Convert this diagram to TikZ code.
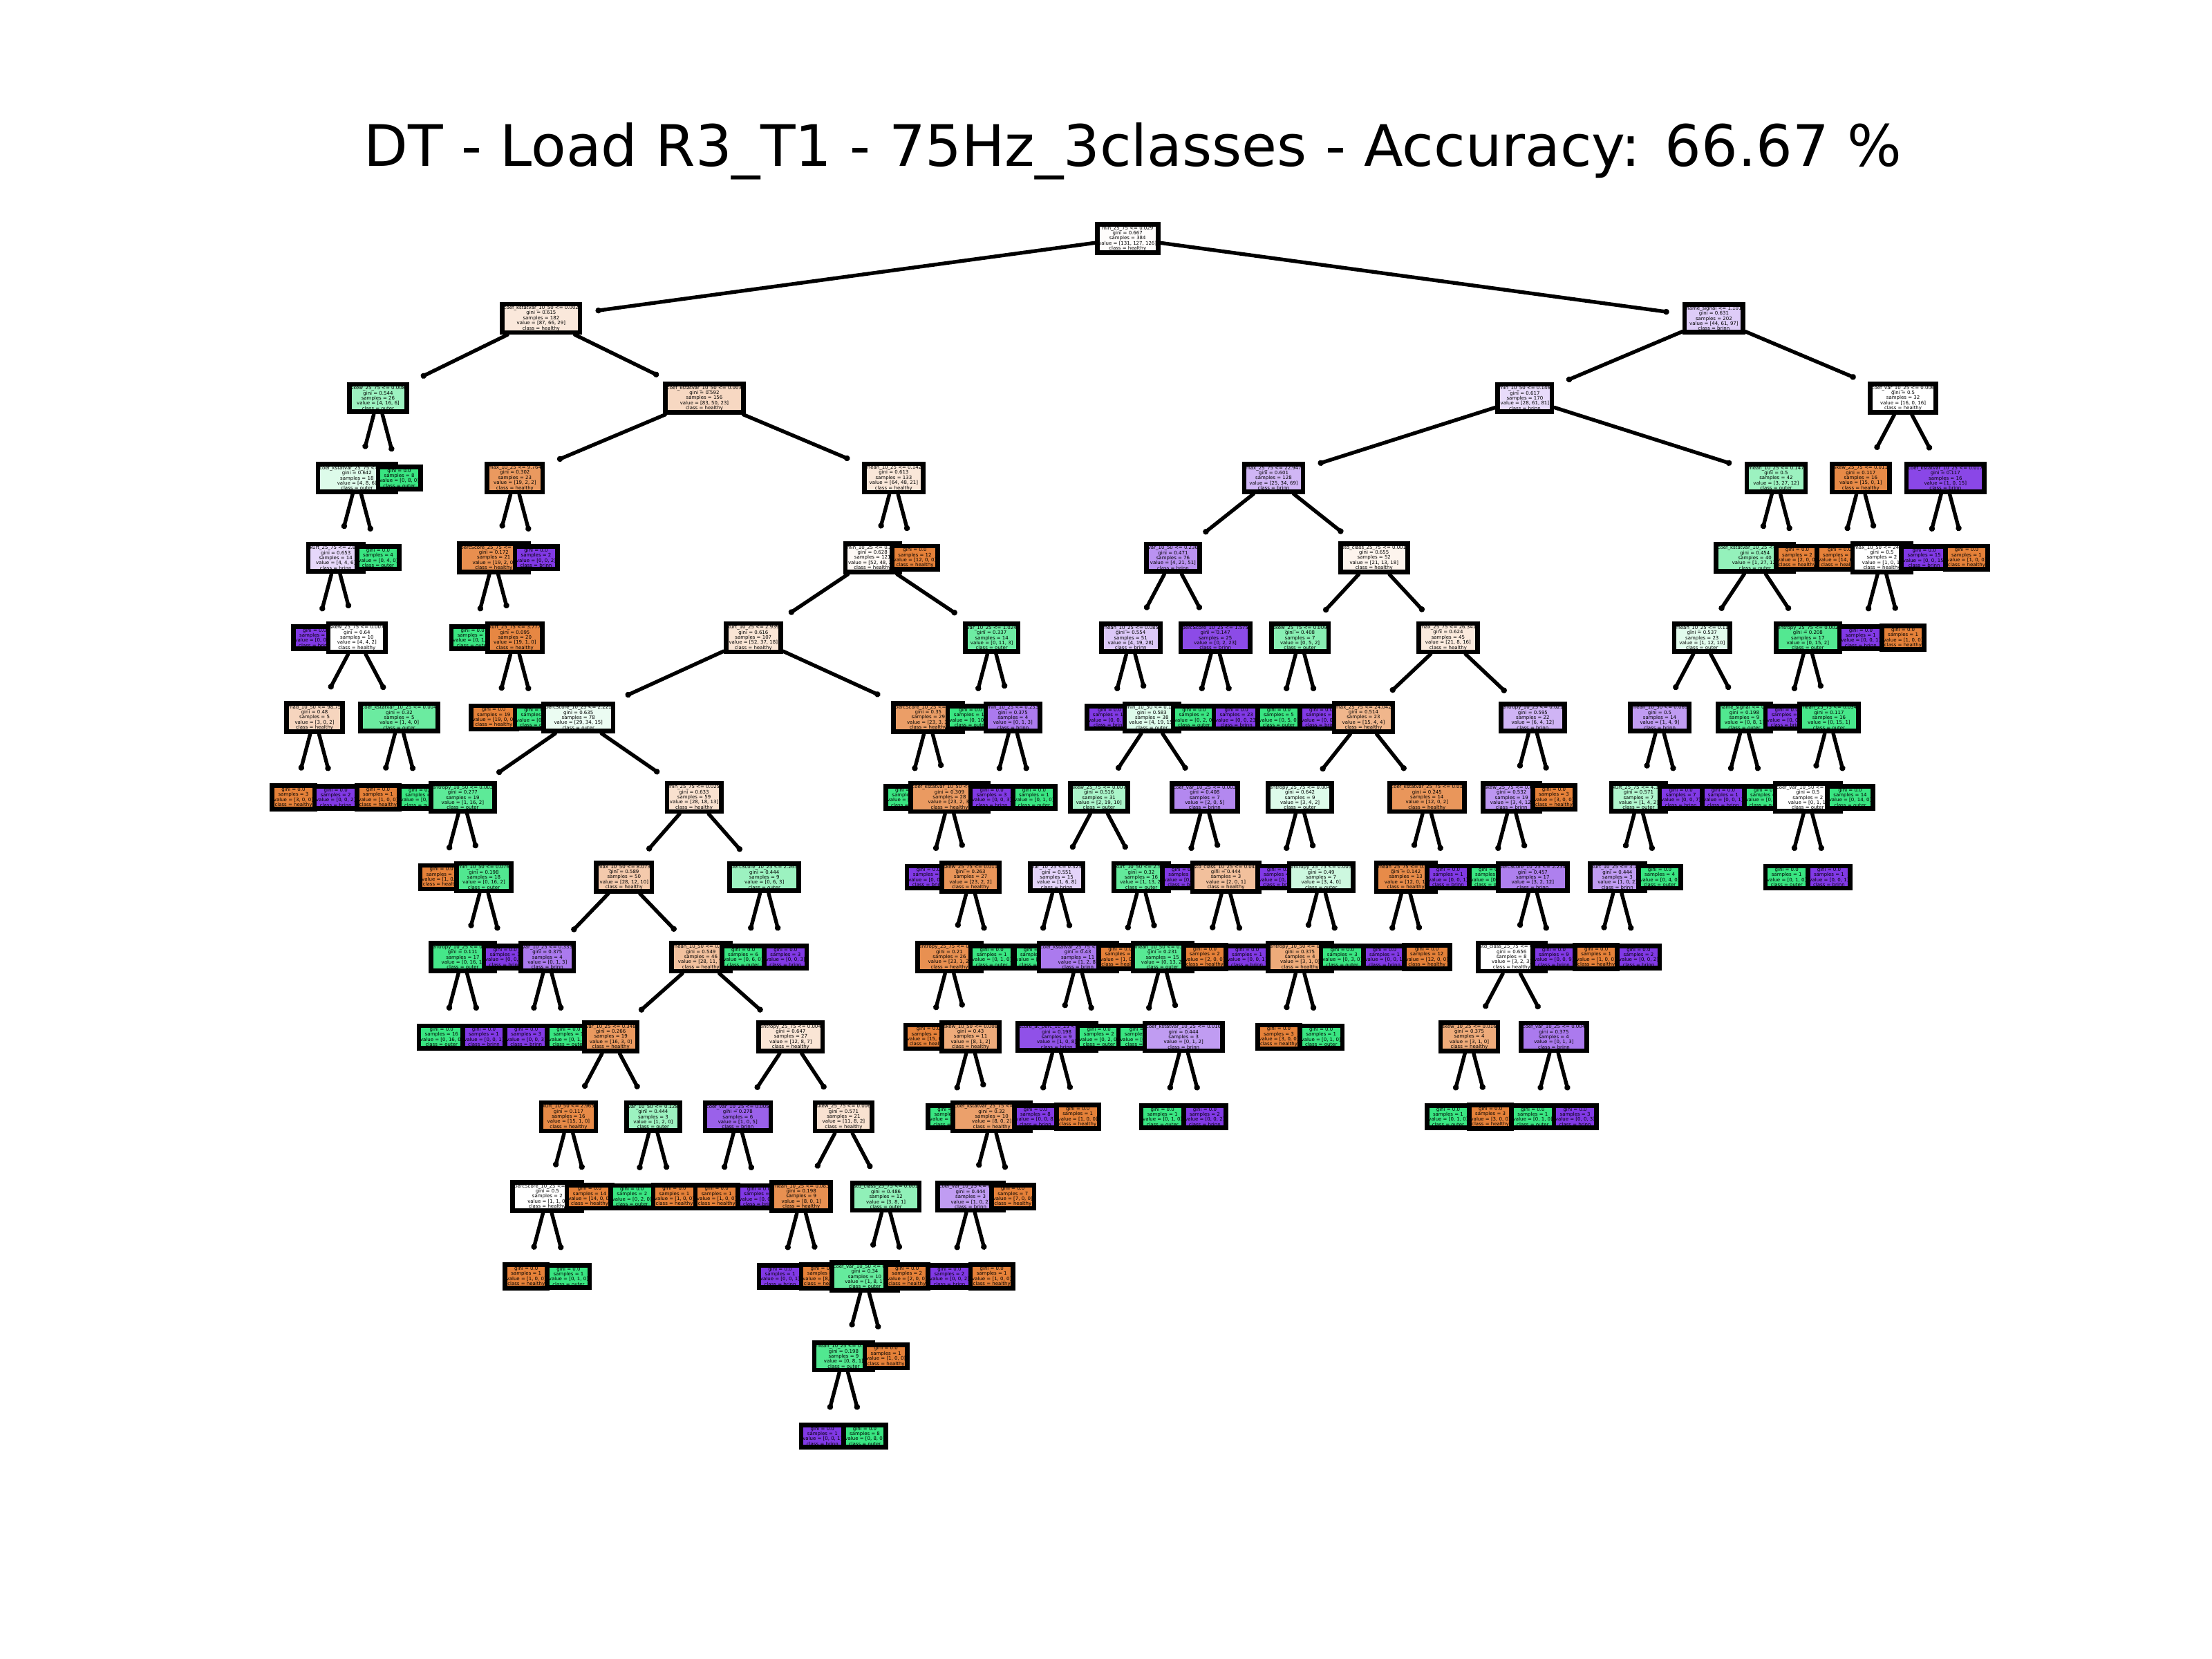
\documentclass[tikz,border=0pt]{standalone}
\usepackage{fontspec}
\setmainfont{DejaVu Sans}
\usepackage{xcolor}
\usetikzlibrary{arrows.meta}

\definecolor{clhealthy}{HTML}{E58139}
\definecolor{clouter}{HTML}{39E581}
\definecolor{clbrinn}{HTML}{8139E5}

\newcommand{\treefont}{\fontsize{1.95pt}{2.05pt}\selectfont\lineskiplimit=-5pt\relax}
\newcommand{\splittext}[6]{#1 <= #2\\gini = #3\\samples = #4\\value = [#5]\\class = #6}
\newcommand{\leaftext}[3]{gini = 0.0\\samples = #1\\value = [#2]\\class = #3}

\tikzset{
  treebox/.style={draw,line width=1.85pt,align=center,inner xsep=0.6pt,inner ysep=0.68pt,font=\treefont},
  branch/.style={line width=1.5pt,line cap=round,shorten >=0.19cm,-{Circle[length=2.3pt]}}
}

\begin{document}
\begin{tikzpicture}[x=0.02cm,y=-0.02cm]
\useasboundingbox (0,0) rectangle (1568,1176);

\node[font=\fontsize{23.1pt}{27pt}\selectfont] (Title) at (803,107) {DT - Load R3\_T1 - 75Hz\_3classes - Accuracy: 66.67 \%};

% 0
\node[treebox,fill=clhealthy!2] (N0) at (799.3,169) {\splittext{min\_25\_75}{0.029}{0.667}{384}{131, 127, 126}{healthy}};

% left half
\node[treebox,fill=clhealthy!18] (N1) at (383.6,225.6) {\splittext{coef\_kstatvar\_10\_50}{0.002}{0.615}{182}{87, 66, 29}{healthy}};
\node[treebox,fill=clouter!50] (N2) at (268,282.2) {\splittext{skew\_25\_75}{0.008}{0.544}{26}{4, 16, 6}{outer}};
\node[treebox,fill=clouter!17] (N3) at (253,338.8) {\splittext{coef\_kstatvar\_25\_75}{0.004}{0.642}{18}{4, 8, 6}{outer}};
\node[treebox,fill=clbrinn!20] (N4) at (238,395.4) {\splittext{kurt\_25\_75}{2.869}{0.653}{14}{4, 4, 6}{brinn}};
\node[treebox,fill=clbrinn] (N5) at (223,452) {\leaftext{4}{0, 0, 4}{brinn}};
\node[treebox,fill=white] (N6) at (253,452) {\splittext{skew\_25\_75}{0.007}{0.64}{10}{4, 4, 2}{healthy}};
\node[treebox,fill=clhealthy!33] (N7) at (223,508.6) {\splittext{mad\_10\_50}{98.75}{0.48}{5}{3, 0, 2}{healthy}};
\node[treebox,fill=clhealthy] (N8) at (208,565.2) {\leaftext{3}{3, 0, 0}{healthy}};
\node[treebox,fill=clbrinn] (N9) at (238,565.2) {\leaftext{2}{0, 0, 2}{brinn}};
\node[treebox,fill=clouter!75] (N10) at (283,508.6) {\splittext{coef\_kstatvar\_10\_25}{0.004}{0.32}{5}{1, 4, 0}{outer}};
\node[treebox,fill=clhealthy] (N11) at (268,565.2) {\leaftext{1}{1, 0, 0}{healthy}};
\node[treebox,fill=clouter] (N12) at (298,565.2) {\leaftext{4}{0, 4, 0}{outer}};
\node[treebox,fill=clouter] (N13) at (268,395.4) {\leaftext{4}{0, 4, 0}{outer}};
\node[treebox,fill=clouter] (N14) at (283,338.8) {\leaftext{8}{0, 8, 0}{outer}};
\node[treebox,fill=clhealthy!31] (N15) at (499.3,282.2) {\splittext{coef\_kstatvar\_10\_50}{0.003}{0.592}{156}{83, 50, 23}{healthy}};
\node[treebox,fill=clhealthy!81] (N16) at (365,338.8) {\splittext{max\_10\_25}{9.764}{0.302}{23}{19, 2, 2}{healthy}};
\node[treebox,fill=clhealthy!89] (N17) at (350,395.4) {\splittext{percScore\_25\_75}{2.486}{0.172}{21}{19, 2, 0}{healthy}};
\node[treebox,fill=clouter] (N18) at (335,452) {\leaftext{1}{0, 1, 0}{outer}};
\node[treebox,fill=clhealthy!95] (N19) at (365,452) {\splittext{kurt\_25\_75}{3.777}{0.095}{20}{19, 1, 0}{healthy}};
\node[treebox,fill=clhealthy] (N20) at (350,508.6) {\leaftext{19}{19, 0, 0}{healthy}};
\node[treebox,fill=clouter] (N21) at (380,508.6) {\leaftext{1}{0, 1, 0}{outer}};
\node[treebox,fill=clbrinn] (N22) at (380,395.4) {\leaftext{2}{0, 0, 2}{brinn}};
\node[treebox,fill=clhealthy!19] (N23) at (633.5,338.8) {\splittext{mean\_10\_25}{0.142}{0.613}{133}{64, 48, 21}{healthy}};
\node[treebox,fill=clhealthy!5] (N24) at (618.5,395.4) {\splittext{min\_10\_25}{0.318}{0.628}{121}{52, 48, 21}{healthy}};
\node[treebox,fill=clhealthy!21] (N25) at (534,452) {\splittext{kurt\_10\_25}{2.939}{0.616}{107}{52, 37, 18}{healthy}};
\node[treebox,fill=clouter!10] (N26) at (410,508.6) {\splittext{percScore\_10\_25}{2.221}{0.635}{78}{29, 34, 15}{outer}};
\node[treebox,fill=clouter!82] (N27) at (328,565.2) {\splittext{entropy\_10\_50}{0.003}{0.277}{19}{1, 16, 2}{outer}};
\node[treebox,fill=clhealthy] (N28) at (313,621.8) {\leaftext{1}{1, 0, 0}{healthy}};
\node[treebox,fill=clouter!88] (N29) at (343,621.8) {\splittext{min\_10\_50}{0.076}{0.198}{18}{0, 16, 2}{outer}};
\node[treebox,fill=clouter!94] (N30) at (328,678.4) {\splittext{entropy\_10\_25}{0.004}{0.111}{17}{0, 16, 1}{outer}};
\node[treebox,fill=clouter] (N31) at (313,735) {\leaftext{16}{0, 16, 0}{outer}};
\node[treebox,fill=clbrinn] (N32) at (343,735) {\leaftext{1}{0, 0, 1}{brinn}};
\node[treebox,fill=clbrinn] (N33) at (358,678.4) {\leaftext{1}{0, 0, 1}{brinn}};
\node[treebox,fill=clhealthy!24] (N34) at (492,565.2) {\splittext{min\_25\_75}{0.025}{0.633}{59}{28, 18, 13}{healthy}};
\node[treebox,fill=clhealthy!42] (N35) at (442.4,621.8) {\splittext{max\_10\_50}{8.073}{0.589}{50}{28, 12, 10}{healthy}};
\node[treebox,fill=clbrinn!67] (N36) at (388,678.4) {\splittext{var\_10\_25}{0.333}{0.375}{4}{0, 1, 3}{brinn}};
\node[treebox,fill=clbrinn] (N37) at (373,735) {\leaftext{3}{0, 0, 3}{brinn}};
\node[treebox,fill=clouter] (N38) at (403,735) {\leaftext{1}{0, 1, 0}{outer}};
\node[treebox,fill=clhealthy!49] (N39) at (496.8,678.4) {\splittext{mean\_10\_50}{0.079}{0.549}{46}{28, 11, 7}{healthy}};
\node[treebox,fill=clhealthy!81] (N40) at (433,735) {\splittext{var\_10\_25}{0.348}{0.266}{19}{16, 3, 0}{healthy}};
\node[treebox,fill=clhealthy!93] (N41) at (403,791.6) {\splittext{kurt\_10\_50}{2.965}{0.117}{16}{15, 1, 0}{healthy}};
\node[treebox,fill=white] (N42) at (388,848.2) {\splittext{percScore\_10\_25}{2.381}{0.5}{2}{1, 1, 0}{healthy}};
\node[treebox,fill=clhealthy] (N43) at (373,904.8) {\leaftext{1}{1, 0, 0}{healthy}};
\node[treebox,fill=clouter] (N44) at (403,904.8) {\leaftext{1}{0, 1, 0}{outer}};
\node[treebox,fill=clhealthy] (N45) at (418,848.2) {\leaftext{14}{14, 0, 0}{healthy}};
\node[treebox,fill=clouter!50] (N46) at (463,791.6) {\splittext{var\_10\_50}{0.128}{0.444}{3}{1, 2, 0}{outer}};
\node[treebox,fill=clouter] (N47) at (448,848.2) {\leaftext{2}{0, 2, 0}{outer}};
\node[treebox,fill=clhealthy] (N48) at (478,848.2) {\leaftext{1}{1, 0, 0}{healthy}};
\node[treebox,fill=clhealthy!21] (N49) at (560.5,735) {\splittext{entropy\_25\_75}{0.004}{0.647}{27}{12, 8, 7}{healthy}};
\node[treebox,fill=clbrinn!80] (N50) at (523,791.6) {\splittext{coef\_var\_10\_25}{0.005}{0.278}{6}{1, 0, 5}{brinn}};
\node[treebox,fill=clhealthy] (N51) at (508,848.2) {\leaftext{1}{1, 0, 0}{healthy}};
\node[treebox,fill=clbrinn] (N52) at (538,848.2) {\leaftext{5}{0, 0, 5}{brinn}};
\node[treebox,fill=clhealthy!23] (N53) at (598,791.6) {\splittext{skew\_25\_75}{0.006}{0.571}{21}{11, 8, 2}{healthy}};
\node[treebox,fill=clhealthy!88] (N54) at (568,848.2) {\splittext{mean\_10\_25}{0.083}{0.198}{9}{8, 0, 1}{healthy}};
\node[treebox,fill=clbrinn] (N55) at (553,904.8) {\leaftext{1}{0, 0, 1}{brinn}};
\node[treebox,fill=clhealthy] (N56) at (583,904.8) {\leaftext{8}{8, 0, 0}{healthy}};
\node[treebox,fill=clouter!56] (N57) at (628,848.2) {\splittext{std\_class\_25\_75}{0.001}{0.486}{12}{3, 8, 1}{outer}};
\node[treebox,fill=clouter!78] (N58) at (613,904.8) {\splittext{coef\_var\_10\_50}{0.004}{0.34}{10}{1, 8, 1}{outer}};
\node[treebox,fill=clouter!88] (N59) at (598,961.4) {\splittext{mean\_10\_25}{0.121}{0.198}{9}{0, 8, 1}{outer}};
\node[treebox,fill=clbrinn] (N60) at (583,1018) {\leaftext{1}{0, 0, 1}{brinn}};
\node[treebox,fill=clouter] (N61) at (613,1018) {\leaftext{8}{0, 8, 0}{outer}};
\node[treebox,fill=clhealthy] (N62) at (628,961.4) {\leaftext{1}{1, 0, 0}{healthy}};
\node[treebox,fill=clhealthy] (N63) at (643,904.8) {\leaftext{2}{2, 0, 0}{healthy}};
\node[treebox,fill=clouter!50] (N64) at (541.8,621.8) {\splittext{percScore\_10\_25}{2.265}{0.444}{9}{0, 6, 3}{outer}};
\node[treebox,fill=clouter] (N65) at (526.8,678.4) {\leaftext{6}{0, 6, 0}{outer}};
\node[treebox,fill=clbrinn] (N66) at (556.8,678.4) {\leaftext{3}{0, 0, 3}{brinn}};
\node[treebox,fill=clhealthy!77] (N67) at (658,508.6) {\splittext{percScore\_10\_25}{2.513}{0.35}{29}{23, 3, 3}{healthy}};
\node[treebox,fill=clouter] (N68) at (643,565.2) {\leaftext{1}{0, 1, 0}{outer}};
\node[treebox,fill=clhealthy!80] (N69) at (673,565.2) {\splittext{coef\_kstatvar\_10\_50}{0.005}{0.309}{28}{23, 2, 3}{healthy}};
\node[treebox,fill=clbrinn] (N70) at (658,621.8) {\leaftext{1}{0, 0, 1}{brinn}};
\node[treebox,fill=clhealthy!84] (N71) at (688,621.8) {\splittext{skew\_25\_75}{0.011}{0.263}{27}{23, 2, 2}{healthy}};
\node[treebox,fill=clhealthy!88] (N72) at (673,678.4) {\splittext{entropy\_25\_75}{0.005}{0.21}{26}{23, 1, 2}{healthy}};
\node[treebox,fill=clhealthy] (N73) at (658,735) {\leaftext{15}{15, 0, 0}{healthy}};
\node[treebox,fill=clhealthy!67] (N74) at (688,735) {\splittext{skew\_10\_50}{0.008}{0.43}{11}{8, 1, 2}{healthy}};
\node[treebox,fill=clouter] (N75) at (673,791.6) {\leaftext{1}{0, 1, 0}{outer}};
\node[treebox,fill=clhealthy!75] (N76) at (703,791.6) {\splittext{coef\_kstatvar\_25\_75}{0.011}{0.32}{10}{8, 0, 2}{healthy}};
\node[treebox,fill=clbrinn!50] (N77) at (688,848.2) {\splittext{coef\_var\_10\_25}{0.004}{0.444}{3}{1, 0, 2}{brinn}};
\node[treebox,fill=clbrinn] (N78) at (673,904.8) {\leaftext{2}{0, 0, 2}{brinn}};
\node[treebox,fill=clhealthy] (N79) at (703,904.8) {\leaftext{1}{1, 0, 0}{healthy}};
\node[treebox,fill=clhealthy] (N80) at (718,848.2) {\leaftext{7}{7, 0, 0}{healthy}};
\node[treebox,fill=clouter] (N81) at (703,678.4) {\leaftext{1}{0, 1, 0}{outer}};
\node[treebox,fill=clouter!73] (N82) at (703,452) {\splittext{var\_10\_25}{1.024}{0.337}{14}{0, 11, 3}{outer}};
\node[treebox,fill=clouter] (N83) at (688,508.6) {\leaftext{10}{0, 10, 0}{outer}};
\node[treebox,fill=clbrinn!67] (N84) at (718,508.6) {\splittext{min\_10\_25}{0.253}{0.375}{4}{0, 1, 3}{brinn}};
\node[treebox,fill=clbrinn] (N85) at (703,565.2) {\leaftext{3}{0, 0, 3}{brinn}};
\node[treebox,fill=clouter] (N86) at (733,565.2) {\leaftext{1}{0, 1, 0}{outer}};
\node[treebox,fill=clhealthy] (N87) at (648.5,395.4) {\leaftext{12}{12, 0, 0}{healthy}};

% right half
\node[treebox,fill=clbrinn!26] (N88) at (1214.9,225.6) {\splittext{name\_signal}{1.101}{0.631}{202}{44, 61, 97}{brinn}};
\node[treebox,fill=clbrinn!18] (N89) at (1080.9,282.2) {\splittext{min\_10\_50}{0.146}{0.617}{170}{28, 61, 81}{brinn}};
\node[treebox,fill=clbrinn!37] (N90) at (902.8,338.8) {\splittext{max\_25\_75}{22.947}{0.601}{128}{25, 34, 69}{brinn}};
\node[treebox,fill=clbrinn!55] (N91) at (831.5,395.4) {\splittext{var\_10\_50}{0.236}{0.471}{76}{4, 21, 51}{brinn}};
\node[treebox,fill=clbrinn!28] (N92) at (801.5,452) {\splittext{mean\_10\_25}{0.085}{0.554}{51}{4, 19, 28}{brinn}};
\node[treebox,fill=clbrinn] (N93) at (786.5,508.6) {\leaftext{13}{0, 0, 13}{brinn}};
\node[treebox,fill=clouter!17] (N94) at (816.5,508.6) {\splittext{min\_10\_50}{0.127}{0.583}{38}{4, 19, 15}{outer}};
\node[treebox,fill=clouter!43] (N95) at (779,565.2) {\splittext{skew\_25\_75}{0.007}{0.516}{31}{2, 19, 10}{outer}};
\node[treebox,fill=clbrinn!22] (N96) at (749,621.8) {\splittext{var\_10\_25}{0.325}{0.551}{15}{1, 6, 8}{brinn}};
\node[treebox,fill=clouter] (N97) at (734,678.4) {\leaftext{4}{0, 4, 0}{outer}};
\node[treebox,fill=clbrinn!67] (N98) at (764,678.4) {\splittext{coef\_kstatvar\_25\_75}{0.009}{0.43}{11}{1, 2, 8}{brinn}};
\node[treebox,fill=clbrinn!88] (N99) at (749,735) {\splittext{score\_at\_perc\_10\_25}{0.318}{0.198}{9}{1, 0, 8}{brinn}};
\node[treebox,fill=clbrinn] (N100) at (734,791.6) {\leaftext{8}{0, 0, 8}{brinn}};
\node[treebox,fill=clhealthy] (N101) at (764,791.6) {\leaftext{1}{1, 0, 0}{healthy}};
\node[treebox,fill=clouter] (N102) at (779,735) {\leaftext{2}{0, 2, 0}{outer}};
\node[treebox,fill=clouter!79] (N103) at (809,621.8) {\splittext{kurt\_10\_50}{2.517}{0.32}{16}{1, 13, 2}{outer}};
\node[treebox,fill=clhealthy] (N104) at (794,678.4) {\leaftext{1}{1, 0, 0}{healthy}};
\node[treebox,fill=clouter!85] (N105) at (824,678.4) {\splittext{mean\_10\_50}{0.084}{0.231}{15}{0, 13, 2}{outer}};
\node[treebox,fill=clouter] (N106) at (809,735) {\leaftext{12}{0, 12, 0}{outer}};
\node[treebox,fill=clbrinn!50] (N107) at (839,735) {\splittext{coef\_kstatvar\_10\_25}{0.016}{0.444}{3}{0, 1, 2}{brinn}};
\node[treebox,fill=clouter] (N108) at (824,791.6) {\leaftext{1}{0, 1, 0}{outer}};
\node[treebox,fill=clbrinn] (N109) at (854,791.6) {\leaftext{2}{0, 0, 2}{brinn}};
\node[treebox,fill=clbrinn!60] (N110) at (854,565.2) {\splittext{coef\_var\_10\_25}{0.003}{0.408}{7}{2, 0, 5}{brinn}};
\node[treebox,fill=clbrinn] (N111) at (839,621.8) {\leaftext{4}{0, 0, 4}{brinn}};
\node[treebox,fill=clhealthy!50] (N112) at (869,621.8) {\splittext{std\_class\_10\_25}{0.043}{0.444}{3}{2, 0, 1}{healthy}};
\node[treebox,fill=clhealthy] (N113) at (854,678.4) {\leaftext{2}{2, 0, 0}{healthy}};
\node[treebox,fill=clbrinn] (N114) at (884,678.4) {\leaftext{1}{0, 0, 1}{brinn}};
\node[treebox,fill=clbrinn!91] (N115) at (861.5,452) {\splittext{percScore\_10\_25}{1.575}{0.147}{25}{0, 2, 23}{brinn}};
\node[treebox,fill=clouter] (N116) at (846.5,508.6) {\leaftext{2}{0, 2, 0}{outer}};
\node[treebox,fill=clbrinn] (N117) at (876.5,508.6) {\leaftext{23}{0, 0, 23}{brinn}};
\node[treebox,fill=clhealthy!9] (N118) at (974,395.4) {\splittext{std\_class\_25\_75}{0.001}{0.655}{52}{21, 13, 18}{healthy}};
\node[treebox,fill=clouter!60] (N119) at (921.5,452) {\splittext{skew\_25\_75}{0.009}{0.408}{7}{0, 5, 2}{outer}};
\node[treebox,fill=clouter] (N120) at (906.5,508.6) {\leaftext{5}{0, 5, 0}{outer}};
\node[treebox,fill=clbrinn] (N121) at (936.5,508.6) {\leaftext{2}{0, 0, 2}{brinn}};
\node[treebox,fill=clhealthy!17] (N122) at (1026.5,452) {\splittext{max\_25\_75}{26.341}{0.624}{45}{21, 8, 16}{healthy}};
\node[treebox,fill=clhealthy!58] (N123) at (966.5,508.6) {\splittext{max\_25\_75}{24.042}{0.514}{23}{15, 4, 4}{healthy}};
\node[treebox,fill=clouter!17] (N124) at (921.5,565.2) {\splittext{entropy\_25\_75}{0.004}{0.642}{9}{3, 4, 2}{outer}};
\node[treebox,fill=clbrinn] (N125) at (906.5,621.8) {\leaftext{2}{0, 0, 2}{brinn}};
\node[treebox,fill=clouter!25] (N126) at (936.5,621.8) {\splittext{entropy\_25\_75}{0.005}{0.49}{7}{3, 4, 0}{outer}};
\node[treebox,fill=clhealthy!67] (N127) at (921.5,678.4) {\splittext{entropy\_10\_50}{0.004}{0.375}{4}{3, 1, 0}{healthy}};
\node[treebox,fill=clhealthy] (N128) at (906.5,735) {\leaftext{3}{3, 0, 0}{healthy}};
\node[treebox,fill=clouter] (N129) at (936.5,735) {\leaftext{1}{0, 1, 0}{outer}};
\node[treebox,fill=clouter] (N130) at (951.5,678.4) {\leaftext{3}{0, 3, 0}{outer}};
\node[treebox,fill=clhealthy!83] (N131) at (1011.5,565.2) {\splittext{coef\_kstatvar\_25\_75}{0.01}{0.245}{14}{12, 0, 2}{healthy}};
\node[treebox,fill=clhealthy!92] (N132) at (996.5,621.8) {\splittext{mean\_25\_75}{0.031}{0.142}{13}{12, 0, 1}{healthy}};
\node[treebox,fill=clbrinn] (N133) at (981.5,678.4) {\leaftext{1}{0, 0, 1}{brinn}};
\node[treebox,fill=clhealthy] (N134) at (1011.5,678.4) {\leaftext{12}{12, 0, 0}{healthy}};
\node[treebox,fill=clbrinn] (N135) at (1026.5,621.8) {\leaftext{1}{0, 0, 1}{brinn}};
\node[treebox,fill=clbrinn!38] (N136) at (1086.5,508.6) {\splittext{entropy\_10\_25}{0.021}{0.595}{22}{6, 4, 12}{brinn}};
\node[treebox,fill=clbrinn!53] (N137) at (1071.5,565.2) {\splittext{skew\_25\_75}{0.012}{0.532}{19}{3, 4, 12}{brinn}};
\node[treebox,fill=clouter] (N138) at (1056.5,621.8) {\leaftext{2}{0, 2, 0}{outer}};
\node[treebox,fill=clbrinn!64] (N139) at (1086.5,621.8) {\splittext{percScore\_10\_25}{2.234}{0.457}{17}{3, 2, 12}{brinn}};
\node[treebox,fill=white] (N140) at (1071.5,678.4) {\splittext{std\_class\_25\_75}{0.001}{0.656}{8}{3, 2, 3}{healthy}};
\node[treebox,fill=clhealthy!67] (N141) at (1041.5,735) {\splittext{skew\_10\_25}{0.016}{0.375}{4}{3, 1, 0}{healthy}};
\node[treebox,fill=clouter] (N142) at (1026.5,791.6) {\leaftext{1}{0, 1, 0}{outer}};
\node[treebox,fill=clhealthy] (N143) at (1056.5,791.6) {\leaftext{3}{3, 0, 0}{healthy}};
\node[treebox,fill=clbrinn!67] (N144) at (1101.5,735) {\splittext{coef\_var\_10\_25}{0.004}{0.375}{4}{0, 1, 3}{brinn}};
\node[treebox,fill=clouter] (N145) at (1086.5,791.6) {\leaftext{1}{0, 1, 0}{outer}};
\node[treebox,fill=clbrinn] (N146) at (1116.5,791.6) {\leaftext{3}{0, 0, 3}{brinn}};
\node[treebox,fill=clbrinn] (N147) at (1101.5,678.4) {\leaftext{9}{0, 0, 9}{brinn}};
\node[treebox,fill=clhealthy] (N148) at (1101.5,565.2) {\leaftext{3}{3, 0, 0}{healthy}};
\node[treebox,fill=clouter!50] (N149) at (1259,338.8) {\splittext{mean\_10\_25}{0.147}{0.5}{42}{3, 27, 12}{outer}};
\node[treebox,fill=clouter!54] (N150) at (1244,395.4) {\splittext{coef\_kstatvar\_10\_25}{0.013}{0.454}{40}{1, 27, 12}{outer}};
\node[treebox,fill=clouter!15] (N151) at (1206.5,452) {\splittext{mean\_10\_25}{0.11}{0.537}{23}{1, 12, 10}{outer}};
\node[treebox,fill=clbrinn!50] (N152) at (1176.5,508.6) {\splittext{mean\_10\_50}{0.069}{0.5}{14}{1, 4, 9}{brinn}};
\node[treebox,fill=clouter!40] (N153) at (1161.5,565.2) {\splittext{kurt\_25\_75}{4.312}{0.571}{7}{1, 4, 2}{outer}};
\node[treebox,fill=clbrinn!50] (N154) at (1146.5,621.8) {\splittext{kurt\_10\_25}{3.126}{0.444}{3}{1, 0, 2}{brinn}};
\node[treebox,fill=clhealthy] (N155) at (1131.5,678.4) {\leaftext{1}{1, 0, 0}{healthy}};
\node[treebox,fill=clbrinn] (N156) at (1161.5,678.4) {\leaftext{2}{0, 0, 2}{brinn}};
\node[treebox,fill=clouter] (N157) at (1176.5,621.8) {\leaftext{4}{0, 4, 0}{outer}};
\node[treebox,fill=clbrinn] (N158) at (1191.5,565.2) {\leaftext{7}{0, 0, 7}{brinn}};
\node[treebox,fill=clouter!88] (N159) at (1236.5,508.6) {\splittext{name\_signal}{0.5}{0.198}{9}{0, 8, 1}{outer}};
\node[treebox,fill=clbrinn] (N160) at (1221.5,565.2) {\leaftext{1}{0, 0, 1}{brinn}};
\node[treebox,fill=clouter] (N161) at (1251.5,565.2) {\leaftext{8}{0, 8, 0}{outer}};
\node[treebox,fill=clouter!87] (N162) at (1281.5,452) {\splittext{entropy\_25\_75}{0.002}{0.208}{17}{0, 15, 2}{outer}};
\node[treebox,fill=clbrinn] (N163) at (1266.5,508.6) {\leaftext{1}{0, 0, 1}{brinn}};
\node[treebox,fill=clouter!93] (N164) at (1296.5,508.6) {\splittext{mean\_25\_75}{0.034}{0.117}{16}{0, 15, 1}{outer}};
\node[treebox,fill=white] (N165) at (1281.5,565.2) {\splittext{coef\_var\_10\_50}{0.006}{0.5}{2}{0, 1, 1}{outer}};
\node[treebox,fill=clouter] (N166) at (1266.5,621.8) {\leaftext{1}{0, 1, 0}{outer}};
\node[treebox,fill=clbrinn] (N167) at (1296.5,621.8) {\leaftext{1}{0, 0, 1}{brinn}};
\node[treebox,fill=clouter] (N168) at (1311.5,565.2) {\leaftext{14}{0, 14, 0}{outer}};
\node[treebox,fill=clhealthy] (N169) at (1274,395.4) {\leaftext{2}{2, 0, 0}{healthy}};
\node[treebox,fill=white] (N170) at (1349,282.2) {\splittext{coef\_var\_10\_25}{0.006}{0.5}{32}{16, 0, 16}{healthy}};
\node[treebox,fill=clhealthy!93] (N171) at (1319,338.8) {\splittext{skew\_25\_75}{0.011}{0.117}{16}{15, 0, 1}{healthy}};
\node[treebox,fill=clhealthy] (N172) at (1304,395.4) {\leaftext{14}{14, 0, 0}{healthy}};
\node[treebox,fill=white] (N173) at (1334,395.4) {\splittext{max\_10\_50}{24.468}{0.5}{2}{1, 0, 1}{healthy}};
\node[treebox,fill=clbrinn] (N174) at (1319,452) {\leaftext{1}{0, 0, 1}{brinn}};
\node[treebox,fill=clhealthy] (N175) at (1349,452) {\leaftext{1}{1, 0, 0}{healthy}};
\node[treebox,fill=clbrinn!93] (N176) at (1379,338.8) {\splittext{coef\_kstatvar\_10\_25}{0.017}{0.117}{16}{1, 0, 15}{brinn}};
\node[treebox,fill=clbrinn] (N177) at (1364,395.4) {\leaftext{15}{0, 0, 15}{brinn}};
\node[treebox,fill=clhealthy] (N178) at (1394,395.4) {\leaftext{1}{1, 0, 0}{healthy}};

% branches
\draw[branch] (N0) to (N1); \draw[branch] (N0) to (N88);
\draw[branch] (N1) to (N2); \draw[branch] (N1) to (N15);
\draw[branch] (N2) to (N3); \draw[branch] (N2) to (N14);
\draw[branch] (N3) to (N4); \draw[branch] (N3) to (N13);
\draw[branch] (N4) to (N5); \draw[branch] (N4) to (N6);
\draw[branch] (N6) to (N7); \draw[branch] (N6) to (N10);
\draw[branch] (N7) to (N8); \draw[branch] (N7) to (N9);
\draw[branch] (N10) to (N11); \draw[branch] (N10) to (N12);
\draw[branch] (N15) to (N16); \draw[branch] (N15) to (N23);
\draw[branch] (N16) to (N17); \draw[branch] (N16) to (N22);
\draw[branch] (N17) to (N18); \draw[branch] (N17) to (N19);
\draw[branch] (N19) to (N20); \draw[branch] (N19) to (N21);
\draw[branch] (N23) to (N24); \draw[branch] (N23) to (N87);
\draw[branch] (N24) to (N25); \draw[branch] (N24) to (N82);
\draw[branch] (N25) to (N26); \draw[branch] (N25) to (N67);
\draw[branch] (N26) to (N27); \draw[branch] (N26) to (N34);
\draw[branch] (N27) to (N28); \draw[branch] (N27) to (N29);
\draw[branch] (N29) to (N30); \draw[branch] (N29) to (N33);
\draw[branch] (N30) to (N31); \draw[branch] (N30) to (N32);
\draw[branch] (N34) to (N35); \draw[branch] (N34) to (N64);
\draw[branch] (N35) to (N36); \draw[branch] (N35) to (N39);
\draw[branch] (N36) to (N37); \draw[branch] (N36) to (N38);
\draw[branch] (N39) to (N40); \draw[branch] (N39) to (N49);
\draw[branch] (N40) to (N41); \draw[branch] (N40) to (N46);
\draw[branch] (N41) to (N42); \draw[branch] (N41) to (N45);
\draw[branch] (N42) to (N43); \draw[branch] (N42) to (N44);
\draw[branch] (N46) to (N47); \draw[branch] (N46) to (N48);
\draw[branch] (N49) to (N50); \draw[branch] (N49) to (N53);
\draw[branch] (N50) to (N51); \draw[branch] (N50) to (N52);
\draw[branch] (N53) to (N54); \draw[branch] (N53) to (N57);
\draw[branch] (N54) to (N55); \draw[branch] (N54) to (N56);
\draw[branch] (N57) to (N58); \draw[branch] (N57) to (N63);
\draw[branch] (N58) to (N59); \draw[branch] (N58) to (N62);
\draw[branch] (N59) to (N60); \draw[branch] (N59) to (N61);
\draw[branch] (N64) to (N65); \draw[branch] (N64) to (N66);
\draw[branch] (N67) to (N68); \draw[branch] (N67) to (N69);
\draw[branch] (N69) to (N70); \draw[branch] (N69) to (N71);
\draw[branch] (N71) to (N72); \draw[branch] (N71) to (N81);
\draw[branch] (N72) to (N73); \draw[branch] (N72) to (N74);
\draw[branch] (N74) to (N75); \draw[branch] (N74) to (N76);
\draw[branch] (N76) to (N77); \draw[branch] (N76) to (N80);
\draw[branch] (N77) to (N78); \draw[branch] (N77) to (N79);
\draw[branch] (N82) to (N83); \draw[branch] (N82) to (N84);
\draw[branch] (N84) to (N85); \draw[branch] (N84) to (N86);
\draw[branch] (N88) to (N89); \draw[branch] (N88) to (N170);
\draw[branch] (N89) to (N90); \draw[branch] (N89) to (N149);
\draw[branch] (N90) to (N91); \draw[branch] (N90) to (N118);
\draw[branch] (N91) to (N92); \draw[branch] (N91) to (N115);
\draw[branch] (N92) to (N93); \draw[branch] (N92) to (N94);
\draw[branch] (N94) to (N95); \draw[branch] (N94) to (N110);
\draw[branch] (N95) to (N96); \draw[branch] (N95) to (N103);
\draw[branch] (N96) to (N97); \draw[branch] (N96) to (N98);
\draw[branch] (N98) to (N99); \draw[branch] (N98) to (N102);
\draw[branch] (N99) to (N100); \draw[branch] (N99) to (N101);
\draw[branch] (N103) to (N104); \draw[branch] (N103) to (N105);
\draw[branch] (N105) to (N106); \draw[branch] (N105) to (N107);
\draw[branch] (N107) to (N108); \draw[branch] (N107) to (N109);
\draw[branch] (N110) to (N111); \draw[branch] (N110) to (N112);
\draw[branch] (N112) to (N113); \draw[branch] (N112) to (N114);
\draw[branch] (N115) to (N116); \draw[branch] (N115) to (N117);
\draw[branch] (N118) to (N119); \draw[branch] (N118) to (N122);
\draw[branch] (N119) to (N120); \draw[branch] (N119) to (N121);
\draw[branch] (N122) to (N123); \draw[branch] (N122) to (N136);
\draw[branch] (N123) to (N124); \draw[branch] (N123) to (N131);
\draw[branch] (N124) to (N125); \draw[branch] (N124) to (N126);
\draw[branch] (N126) to (N127); \draw[branch] (N126) to (N130);
\draw[branch] (N127) to (N128); \draw[branch] (N127) to (N129);
\draw[branch] (N131) to (N132); \draw[branch] (N131) to (N135);
\draw[branch] (N132) to (N133); \draw[branch] (N132) to (N134);
\draw[branch] (N136) to (N137); \draw[branch] (N136) to (N148);
\draw[branch] (N137) to (N138); \draw[branch] (N137) to (N139);
\draw[branch] (N139) to (N140); \draw[branch] (N139) to (N147);
\draw[branch] (N140) to (N141); \draw[branch] (N140) to (N144);
\draw[branch] (N141) to (N142); \draw[branch] (N141) to (N143);
\draw[branch] (N144) to (N145); \draw[branch] (N144) to (N146);
\draw[branch] (N149) to (N150); \draw[branch] (N149) to (N169);
\draw[branch] (N150) to (N151); \draw[branch] (N150) to (N162);
\draw[branch] (N151) to (N152); \draw[branch] (N151) to (N159);
\draw[branch] (N152) to (N153); \draw[branch] (N152) to (N158);
\draw[branch] (N153) to (N154); \draw[branch] (N153) to (N157);
\draw[branch] (N154) to (N155); \draw[branch] (N154) to (N156);
\draw[branch] (N159) to (N160); \draw[branch] (N159) to (N161);
\draw[branch] (N162) to (N163); \draw[branch] (N162) to (N164);
\draw[branch] (N164) to (N165); \draw[branch] (N164) to (N168);
\draw[branch] (N165) to (N166); \draw[branch] (N165) to (N167);
\draw[branch] (N170) to (N171); \draw[branch] (N170) to (N176);
\draw[branch] (N171) to (N172); \draw[branch] (N171) to (N173);
\draw[branch] (N173) to (N174); \draw[branch] (N173) to (N175);
\draw[branch] (N176) to (N177); \draw[branch] (N176) to (N178);

\end{tikzpicture}
\end{document}
